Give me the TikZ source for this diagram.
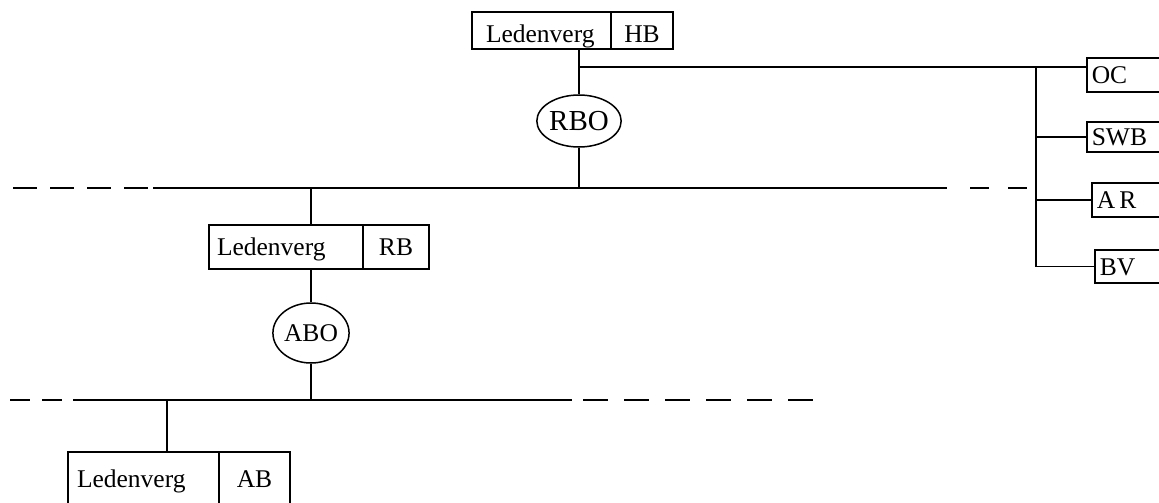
\documentclass[tikz,border=0pt]{standalone}
\usepackage{fontspec}
\setmainfont{Liberation Serif}
\usepackage{tikz}
\usetikzlibrary{shapes.geometric}
\newcommand{\diagfont}{\fontsize{25.5}{30}\selectfont}
\tikzset{
  cell/.style={draw, inner ysep=0pt, text height=20pt, text depth=3pt, font=\diagfont},
  namecell/.style={cell, align=left},
  sidecell/.style={cell, anchor=west, align=left, inner xsep=5pt, text width=80pt},
  oval/.style={draw, ellipse, inner sep=0pt, font=\diagfont},
  busdash/.style={dash pattern=on 24pt off 13pt},
}
\begin{document}
\begin{tikzpicture}[x=1pt, y=-1pt, line width=1.5pt]
\useasboundingbox (0,0) rectangle (1159,503);
\clip (0,0) rectangle (1159,503);
% The boxes
\node[namecell, inner xsep=14pt, text width=111pt, minimum height=37pt, text height=27pt] (hbname) at (541.5,30.5) {Ledenverg};
\node[cell, minimum width=62pt, minimum height=37pt, text height=27pt] (hbcode) at (642,30.5) {HB};
\node[namecell, inner xsep=8pt, text width=138pt, minimum height=44pt] (rbname) at (286,247) {Ledenverg};
\node[cell, minimum width=66pt, minimum height=44pt] (rbcode) at (396,247) {RB};
\node[namecell, inner xsep=9pt, text width=133pt, minimum height=53pt] (abname) at (143.5,478.5) {Ledenverg};
\node[cell, minimum width=71pt, minimum height=53pt] (abcode) at (254.5,478.5) {AB};
\node[oval, minimum width=66pt, minimum height=52pt, font=\fontsize{29}{32}\selectfont] (rbo) at (579,121) {RBO};
\node[oval, minimum width=64pt, minimum height=60pt] (abo) at (311,333) {ABO};
\node[sidecell, minimum height=34pt] (oc) at (1086,75) {OC};
\node[sidecell, minimum height=30pt] (swb) at (1086,137) {SWB};
\node[sidecell, minimum height=34pt] (ar) at (1091,200) {A\,R};
\node[sidecell, minimum height=33pt] (bv) at (1094,266.5) {BV};
% The levels
\coordinate (lineAwest) at (13,188);
\coordinate (lineAstart) at (153,188);
\coordinate (lineAend) at (947,188);
\coordinate (lineAeast) at (970,188);
\coordinate (lineBwest) at (10,400);
\coordinate (lineBstart) at (73,400);
\coordinate (lineBend) at (572,400);
\coordinate (lineBeast) at (583,400);
\draw[busdash] (lineAwest) -- (lineAstart);
\draw (lineAstart) -- (lineAend);
\draw[dash pattern=on 19pt off 19pt] (lineAeast) -- (1031,188);
\draw[dash pattern=on 20pt off 12pt] (lineBwest) -- (lineBstart);
\draw (lineBstart) -- (lineBend);
\draw[dash pattern=on 25pt off 16pt] (lineBeast) -- (815,400);
% The connectors
\coordinate (hbsplit) at (579,67);
\coordinate (bus) at (1036,67);
\coordinate (abtap) at (167,400);
\draw (hbname.south -| rbo) -- (rbo);
\draw (rbo) -- (rbo |- lineAstart);
\draw (hbsplit) -- (oc.west |- hbsplit);
\draw (bus) -- (bus |- bv.west) -- (bv.west);
\draw (bus |- swb.west) -- (swb.west);
\draw (bus |- ar.west) -- (ar.west);
\draw (abo |- lineAstart) -- (rbname.north -| abo);
\draw (rbname.south -| abo) -- (abo);
\draw (abo) -- (abo |- lineBstart);
\draw (abtap) -- (abname.north -| abtap);
\end{tikzpicture}
\end{document}
